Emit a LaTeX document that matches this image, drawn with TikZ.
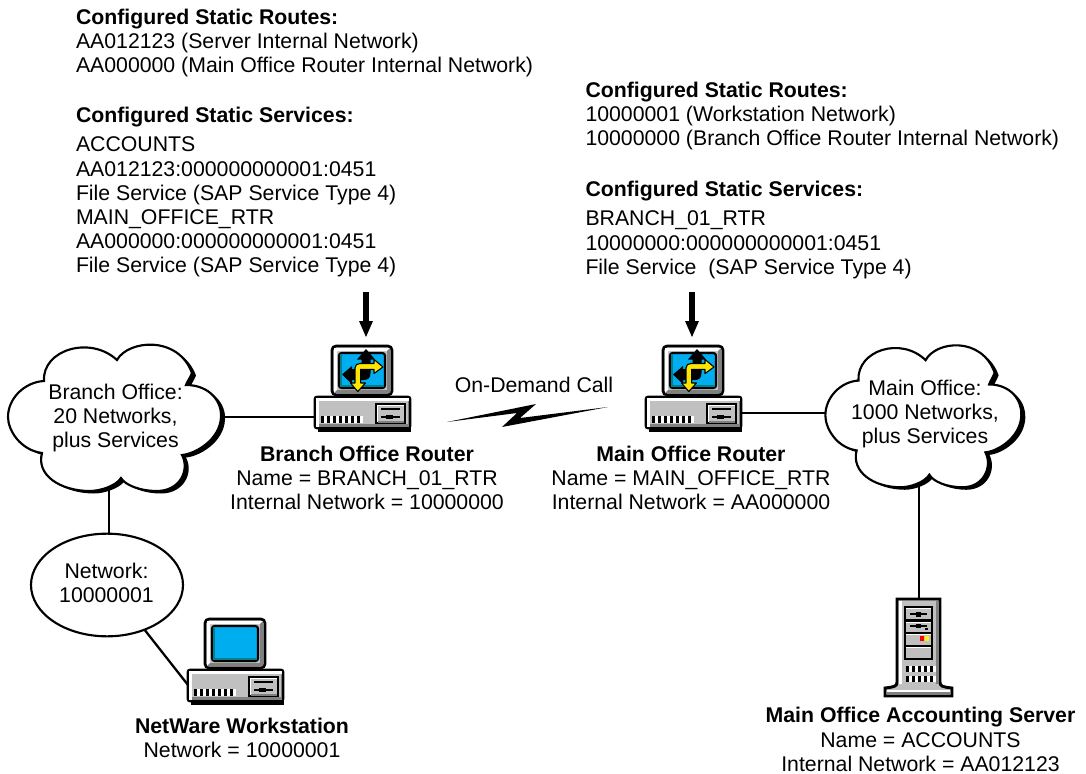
\documentclass[tikz,border=0pt]{standalone}
\usetikzlibrary{shapes.geometric}
\usepackage{fontspec}
\setmainfont{Liberation Sans}
\definecolor{scr}{HTML}{00AEEF}
\definecolor{grayA}{HTML}{C0C0C0}
\definecolor{grayB}{HTML}{808080}
\definecolor{scrD}{HTML}{007F8F}
\definecolor{arY}{HTML}{FFE600}
\tikzset{
  txt/.style={inner sep=0pt,outer sep=0pt,font=\fontsize{15.95pt}{18.15pt}\selectfont},
  blk/.style={txt,anchor=north west,align=left},
  ctr/.style={txt,anchor=north,align=center},
  link/.style={line width=1.7pt,black},
  pics/pc/.style={code={
    \fill[black] (22,-2) rectangle (74,2);
    \draw[line width=2pt,rounded corners=3pt,fill=grayA] (18,-51) rectangle (78,-2);
    \fill[white] (20,-49) -- (76,-49) -- (73,-46) -- (23,-46) -- (23,-7) -- (20,-4) -- cycle;
    \fill[grayB] (20,-4) -- (76,-4) -- (76,-49) -- (73,-46) -- (73,-7) -- (23,-7) -- cycle;
    \draw[line width=1.6pt,rounded corners=2pt,fill=scr] (25,-44) rectangle (71,-9);
    \draw[scrD,line width=1.2pt] (26,-11) -- (70,-11);
    \draw[scrD,line width=1.2pt] (27,-43) -- (27,-10);
    \fill[black] (4,30) rectangle (97,35);
    \draw[line width=2pt,rounded corners=1.5pt,fill=grayA] (1,0) rectangle (96,31);
    \fill[white] (2,1) rectangle (95,4);
    \fill[white] (2,1) rectangle (5,30);
    \fill[grayB] (5,26.5) rectangle (95,30);
    \draw[line width=1pt,fill=white] (62,7) rectangle (91,26);
    \fill[grayA] (64,9) rectangle (90,24.5);
    \fill[grayB] (64,24) rectangle (90,25.5);
    \draw[line width=1.2pt] (67,12) -- (86,12);
    \draw[line width=1.2pt] (67,20) -- (86,20);
    \fill[black] (72,18) rectangle (79,22);
    \foreach \i in {0,...,6} {\fill[black] (7+\i*6,19) rectangle (10+\i*6,26);
      \fill[white] (10+\i*6,19) rectangle (13+\i*6,26);}
  }},
  pics/routerglyph/.style={code={
    \fill[black] (52,-48) -- (61,-37.5) -- (56.5,-37.5) -- (56.5,-24) .. controls (56.5,-19) and (54,-17) .. (50,-17) -- (38,-17) -- (38,-13) -- (28,-22.5) -- (38,-31) -- (38,-28) -- (47.5,-28) -- (47.5,-37.5) -- (43,-37.5) -- cycle;
    \draw[line width=.8pt,fill=arY,line join=round] (43.8,-5.5) -- (36.5,-14) -- (41,-14) -- (41,-29) .. controls (41,-32) and (43,-33.5) .. (46,-33.5) -- (60,-33.5) -- (60,-37.5) -- (69,-30) -- (60,-23.5) -- (60,-27.7) -- (46.7,-27.7) -- (46.7,-14) -- (51.5,-14) -- cycle;
  }},
  pics/cloudshape/.style={code={
    \path[pic actions] (117,360)
      .. controls (128,340) and (178,335) .. (192,373)
      .. controls (190,378) and (187,382) .. (186,385)
      .. controls (210,385) and (222,402) .. (221,417)
      .. controls (220,440) and (195,454) .. (182,455)
      .. controls (190,470) and (180,491) .. (157,491)
      .. controls (140,491) and (125,485) .. (121,478)
      .. controls (116,486) and (100,491) .. (90,491)
      .. controls (60,491) and (36,475) .. (42,453)
      .. controls (20,450) and (8,430) .. (8,417)
      .. controls (8,398) and (25,382) .. (44,381)
      .. controls (42,350) and (90,335) .. (117,360) -- cycle;
  }},
  pics/arrowdown/.style={code={
    \fill[black] (363,292) rectangle (369,322);
    \fill[black] (359,321) -- (373,321) -- (366,337) -- cycle;
  }},
  pics/servericon/.style={code={
    \path[fill=grayA,draw=black,line width=2.2pt] (897,599) -- (940,599) -- (940,682) .. controls (940,686) and (942,687) .. (952,688) -- (952,696) -- (885,696) -- (885,688) .. controls (895,687) and (897,686) .. (897,682) -- cycle;
    \fill[white] (899,601) rectangle (902,684);
    \fill[white] (887,690) rectangle (950,692);
    \fill[grayB] (936,601) rectangle (938.5,684);
    \fill[grayB] (887,692) rectangle (950,694.5);
    \fill[black] (904,606) rectangle (933,660);
    \foreach \a/\b in {608/619,621.5/632,634/645,647/658} {\fill[grayA] (906,\a) rectangle (931,\b); \fill[white] (906,\a) rectangle (931,\a+1);}
    \draw[line width=1pt] (910,614) -- (927,614);
    \fill[black] (916,611.5) rectangle (921,616.5);
    \draw[line width=1pt] (910,626) -- (927,626);
    \fill[black] (916,624) rectangle (921,628);
    \fill[black] (925,628) rectangle (928,630);
    \fill[red] (920,636) rectangle (924,640.5);
    \fill[yellow] (925,636) rectangle (929,640.5);
    \foreach \r in {666,676} \foreach \i in {0,...,4} {\fill[black] (906+\i*6,\r) rectangle (909+\i*6,\r+6); \fill[white] (909+\i*6,\r) rectangle (912+\i*6,\r+6);}
  }}
}
\begin{document}
\begin{tikzpicture}[x=0.75pt,y=-0.75pt]
\useasboundingbox (0,0) rectangle (1086,774);
% text blocks
\node[blk] (routesA) at (76,8.7) {\textbf{Configured Static Routes:}\\AA012123 (Server Internal Network)\\AA000000 (Main Office Router Internal Network)};
\node[blk] (svcA) at (76,107.4) {\textbf{Configured Static Services:}\\[3.6pt]ACCOUNTS\\AA012123:000000000001:0451\\File Service (SAP Service Type 4)\\MAIN\_OFFICE\_RTR\\AA000000:000000000001:0451\\File Service (SAP Service Type 4)};
\node[blk] (routesB) at (585.5,82) {\textbf{Configured Static Routes:}\\10000001 (Workstation Network)\\10000000 (Branch Office Router Internal Network)};
\node[blk] (svcB) at (585.5,181.4) {\textbf{Configured Static Services:}\\[3.6pt]BRANCH\_01\_RTR\\10000000:000000000001:0451\\File Service~ (SAP Service Type 4)};
% connectors' free ends
\coordinate (cbR) at (222,417);
\coordinate (rbL) at (314,417);
\coordinate (rmR) at (742,413);
\coordinate (cmL) at (825,413);
\coordinate (cbB) at (109,490);
\coordinate (wsL) at (188,685);
\coordinate (cmB) at (919,485);
\coordinate (srvT) at (919,599);
% network ellipse
\node[ellipse,draw=black,line width=1.6pt,fill=white,minimum width=114pt,minimum height=77pt,inner sep=0pt,outer sep=0pt] (net) at (107,585) {};
\node[ctr] (netT) at (106.5,563) {Network:\\10000001};
\draw[link] (cbB) -- (net.north -| cbB);
\draw[link] (net.-50) -- (wsL);
\draw[link] (cbR) -- (rbL);
\draw[link] (rmR) -- (cmL);
\draw[link] (cmB) -- (srvT);
% clouds
\pic[fill=black] at (4,2.5) {cloudshape};
\pic[fill=white,draw=black,line width=1.6pt] {cloudshape};
\pic[fill=black,xscale=.92,yscale=.97] at (822,13.5) {cloudshape};
\pic[fill=white,draw=black,line width=1.6pt,xscale=.92,yscale=.97] at (818,11) {cloudshape};
\node[ctr] (cloudB) at (115.5,383.7) {Branch Office:\\20 Networks,\\plus Services};
\node[ctr] (cloudM) at (925,379.7) {Main Office:\\1000 Networks,\\plus Services};
% icons
\pic at (314,397) {pc};
\pic at (314,397) {routerglyph};
\pic at (645,397) {pc};
\pic at (645,397) {routerglyph};
\pic at (187,670) {pc};
\pic {servericon};
\pic {arrowdown};
\pic at (326,0) {arrowdown};
% lightning
\fill[black] (447,422) -- (536,404) -- (520,418) -- (608,407) -- (502,427) -- (517,413) -- cycle;
\node[txt,anchor=north] (call) at (534,377.5) {On-Demand Call};
% labels
\node[ctr] (lbB) at (367,445.7) {\textbf{Branch Office Router}\\Name = BRANCH\_01\_RTR\\Internal Network = 10000000};
\node[ctr] (lbM) at (691,445.7) {\textbf{Main Office Router}\\Name = MAIN\_OFFICE\_RTR\\Internal Network = AA000000};
\node[ctr] (lbW) at (242,717.7) {\textbf{NetWare Workstation}\\Network = 10000001};
\node[ctr] (lbS) at (920.5,707.5) {\textbf{Main Office Accounting Server}\\Name = ACCOUNTS\\Internal Network = AA012123};
\end{tikzpicture}
\end{document}
